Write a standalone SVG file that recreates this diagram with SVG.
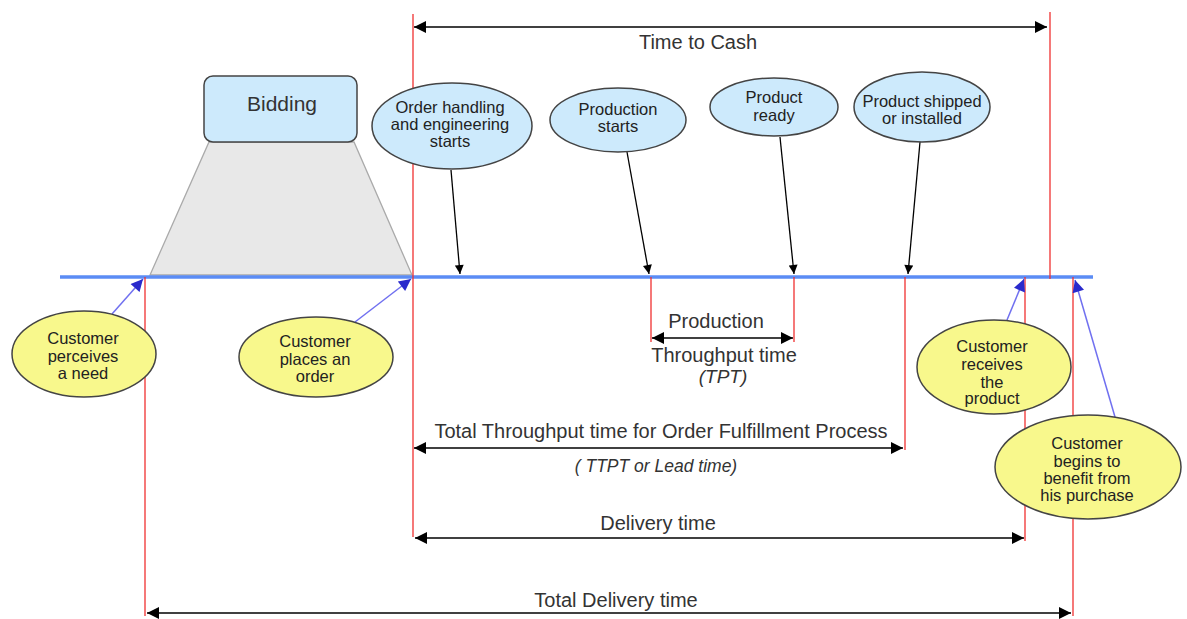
<svg xmlns="http://www.w3.org/2000/svg" width="1187" height="619" viewBox="0 0 1187 619">
<defs>
<marker id="ah" viewBox="0 0 10 10" refX="10" refY="5" markerWidth="14" markerHeight="12" markerUnits="userSpaceOnUse" orient="auto-start-reverse"><path d="M0,0 L10,5 L0,10 Z" fill="#000"/></marker>
<marker id="ahs" viewBox="0 0 10 10" refX="10" refY="5" markerWidth="10" markerHeight="9" markerUnits="userSpaceOnUse" orient="auto"><path d="M0,0 L10,5 L0,10 Z" fill="#000"/></marker>
<marker id="ab" viewBox="0 0 10 10" refX="10" refY="5" markerWidth="14" markerHeight="12" markerUnits="userSpaceOnUse" orient="auto"><path d="M0,0 L10,5 L0,10 Z" fill="#2a2acc"/></marker>
<style>
text{font-family:"Liberation Sans",Arial,sans-serif;fill:#222;text-anchor:middle}
.lbl{font-size:20px;fill:#333}
.it{font-style:italic;font-size:19px;fill:#333}
.el{font-size:16.5px}
.blue{fill:#cdeafc;stroke:#444;stroke-width:1.5}
.yel{fill:#f8f88c;stroke:#444;stroke-width:1.5}
.red{stroke:#f03030;stroke-width:1.3}
.dim{stroke:#000;stroke-width:1.5;fill:none;marker-start:url(#ah);marker-end:url(#ah)}
.ptr{stroke:#000;stroke-width:1.3;fill:none;marker-end:url(#ahs)}
.bptr{stroke:#7070f0;stroke-width:1.5;fill:none;marker-end:url(#ab)}
</style>
</defs>
<rect width="1187" height="619" fill="#fff"/>
<polygon points="209,142 354,142 412,275 150,275" fill="#e8e8e8" stroke="#aaa" stroke-width="1.3"/>
<line x1="60" y1="277" x2="1093" y2="277" stroke="#5b8cf5" stroke-width="3.5"/>
<g id="redlines">
<line class="red" x1="145" y1="277" x2="145" y2="616"/>
<line class="red" x1="413" y1="14" x2="413" y2="537"/>
<line class="red" x1="651" y1="277" x2="651" y2="342"/>
<line class="red" x1="794" y1="277" x2="794" y2="342"/>
<line class="red" x1="905" y1="277" x2="905" y2="450"/>
<line class="red" x1="1025" y1="277" x2="1025" y2="541"/>
<line class="red" x1="1050" y1="12" x2="1050" y2="279"/>
<line class="red" x1="1073" y1="277" x2="1073" y2="616"/>
</g>
<g id="connectors">
<line class="dim" x1="414" y1="27" x2="1047" y2="27"/>
<line class="dim" x1="652" y1="338" x2="793" y2="338"/>
<line class="dim" x1="414" y1="448" x2="903" y2="448"/>
<line class="dim" x1="415" y1="538" x2="1024" y2="538"/>
<line class="dim" x1="147" y1="613" x2="1071" y2="613"/>
<line class="ptr" x1="451" y1="170" x2="460" y2="274"/>
<line class="ptr" x1="627" y1="152" x2="649" y2="274"/>
<line class="ptr" x1="780" y1="137" x2="794" y2="274"/>
<line class="ptr" x1="920" y1="142" x2="908" y2="274"/>
<line class="bptr" x1="112" y1="314" x2="143" y2="279"/>
<line class="bptr" x1="355" y1="322" x2="411" y2="279"/>
<line class="bptr" x1="1007" y1="320" x2="1024" y2="279"/>
<line class="bptr" x1="1115" y1="417" x2="1075" y2="280"/>
</g>
<g id="labels">
<text class="lbl" x="698" y="49">Time to Cash</text>
<text class="lbl" x="716" y="328">Production</text>
<text class="lbl" x="724" y="362">Throughput time</text>
<text class="it" x="723" y="383">(TPT)</text>
<text class="lbl" x="661" y="438">Total Throughput time for Order Fulfillment Process</text>
<text class="it" x="656" y="472" style="font-size:17.5px">( TTPT or Lead time)</text>
<text class="lbl" x="658" y="530">Delivery time</text>
<text class="lbl" x="616" y="607">Total Delivery time</text>
</g>
<g id="bidding">
<rect x="204" y="76" width="153" height="66" rx="9" class="blue"/>
<text x="282" y="111" style="font-size:21px;fill:#333">Bidding</text>
</g>
<g id="order-handling">
<ellipse cx="452" cy="126" rx="80" ry="43" class="blue"/>
<text class="el" x="450" y="113">Order handling</text>
<text class="el" x="450" y="130">and engineering</text>
<text class="el" x="450" y="147">starts</text>
</g>
<g id="production-starts">
<ellipse cx="618" cy="120" rx="68" ry="32" class="blue"/>
<text class="el" x="618" y="115">Production</text>
<text class="el" x="618" y="132">starts</text>
</g>
<g id="product-ready">
<ellipse cx="774" cy="107" rx="64" ry="29" class="blue"/>
<text class="el" x="774" y="103">Product</text>
<text class="el" x="774" y="121">ready</text>
</g>
<g id="product-shipped">
<ellipse cx="922" cy="107" rx="68" ry="35" class="blue"/>
<text class="el" x="922" y="107">Product shipped</text>
<text class="el" x="922" y="124">or installed</text>
</g>
<g id="cust-need">
<ellipse cx="84" cy="354" rx="72" ry="43" class="yel"/>
<text class="el" x="83" y="344">Customer</text>
<text class="el" x="83" y="362">perceives</text>
<text class="el" x="83" y="379">a need</text>
</g>
<g id="cust-order">
<ellipse cx="316" cy="357" rx="77" ry="40" class="yel"/>
<text class="el" x="315" y="347">Customer</text>
<text class="el" x="315" y="365">places an</text>
<text class="el" x="315" y="382">order</text>
</g>
<g id="cust-receives">
<ellipse cx="994" cy="367" rx="77" ry="47" class="yel"/>
<text class="el" x="992" y="352">Customer</text>
<text class="el" x="992" y="370">receives</text>
<text class="el" x="992" y="388">the</text>
<text class="el" x="992" y="404">product</text>
</g>
<g id="cust-benefit">
<ellipse cx="1088" cy="467" rx="93" ry="52" class="yel"/>
<text class="el" x="1087" y="449">Customer</text>
<text class="el" x="1087" y="467">begins to</text>
<text class="el" x="1087" y="484">benefit from</text>
<text class="el" x="1087" y="501">his purchase</text>
</g>
</svg>
